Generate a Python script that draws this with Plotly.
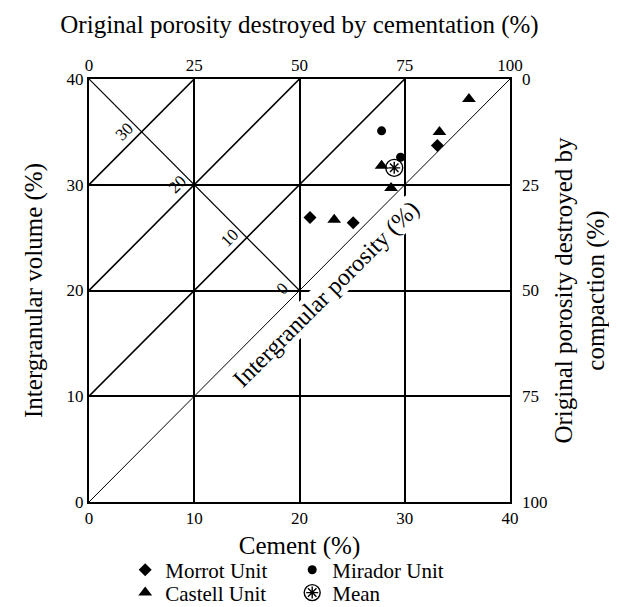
import plotly.graph_objects as go

# ---------------- data ----------------
morrot_cement = [21.0, 25.1, 33.1]
morrot_igv = [26.9, 26.4, 33.7]

mirador_cement = [27.8, 29.6]
mirador_igv = [35.1, 32.6]

castell_cement = [23.3, 27.8, 28.7, 33.3, 36.1]
castell_igv = [26.7, 31.8, 29.7, 35.0, 38.1]

mean_cement = [29.0]
mean_igv = [31.6]

porosity_lines = [0, 10, 20, 30]          # intergranular porosity isolines (IGV - cement)
porosity_labels = ["0", "10", "20", "30"]
bottom_ticks = [0, 10, 20, 30, 40]
left_ticks = [0, 10, 20, 30, 40]
top_ticks = [0, 25, 50, 75, 100]
right_ticks = [0, 25, 50, 75, 100]
AX_MAX = 40

FONT = "Liberation Serif"
BLACK = "black"
PLOT_W = 617 - 81 - 115
ENTRY_W = 122

fig = go.Figure()

fig.add_trace(go.Scatter(
    x=morrot_cement, y=morrot_igv, mode="markers", name="Morrot Unit", legend="legend",
    marker=dict(symbol="diamond", size=10, color=BLACK)))
fig.add_trace(go.Scatter(
    x=mirador_cement, y=mirador_igv, mode="markers", name="Mirador Unit", legend="legend",
    marker=dict(symbol="circle", size=9, color=BLACK)))
fig.add_trace(go.Scatter(
    x=castell_cement, y=castell_igv, mode="markers", name="Castell Unit", legend="legend2",
    marker=dict(symbol="triangle-up", size=12, color=BLACK)))
fig.add_trace(go.Scatter(
    x=mean_cement, y=mean_igv, mode="markers", name="Mean", legend="legend2",
    marker=dict(symbol="circle-open", size=17, color=BLACK, line=dict(width=1.4, color=BLACK))))
# asterisk inside the mean circle (its legend glyph is overlaid on the "Mean" entry)
fig.add_trace(go.Scatter(
    x=mean_cement, y=mean_igv, mode="markers", name=" ", legend="legend3",
    marker=dict(symbol="asterisk-open", size=10, color=BLACK, line=dict(width=1.4, color=BLACK))))
# secondary (top / right) scales
fig.add_trace(go.Scatter(
    x=top_ticks, y=right_ticks, xaxis="x2", yaxis="y2", mode="markers", showlegend=False,
    hoverinfo="skip", marker=dict(opacity=0)))

shapes = []
for p in porosity_lines:
    shapes.append(dict(type="line", xref="x", yref="y", x0=0, y0=p, x1=AX_MAX - p, y1=AX_MAX,
                       line=dict(color=BLACK, width=1.0 if p == 0 else 1.6), layer="below"))
shapes.append(dict(type="line", xref="x", yref="y", x0=0, y0=AX_MAX, x1=AX_MAX / 2, y1=AX_MAX / 2,
                   line=dict(color=BLACK, width=1.2), layer="below"))
fig.update_layout(shapes=shapes)

annotations = []
for p, lab in zip(porosity_lines, porosity_labels):
    xi = (AX_MAX - p) / 2
    yi = (AX_MAX + p) / 2
    annotations.append(dict(x=xi, y=yi, xref="x", yref="y", text=lab, showarrow=False,
                            textangle=-45, xshift=-17, yshift=2 if p == 0 else 0,
                            font=dict(family=FONT, size=17, color=BLACK)))
annotations.append(dict(x=22.5, y=19.7, xref="x", yref="y", text="Intergranular porosity (%)",
                        showarrow=False, textangle=-45, bgcolor="white", borderpad=0,
                        font=dict(family=FONT, size=24, color=BLACK)))
fig.update_layout(annotations=annotations)

tickfont = dict(family=FONT, size=17, color=BLACK)
titlefont = dict(family=FONT, size=25, color=BLACK)
legfont = dict(family=FONT, size=21, color=BLACK)

LEG_X = 0.086
fig.update_layout(
    width=617, height=607,
    margin=dict(l=81, r=115, t=71, b=113, pad=0, autoexpand=False),
    paper_bgcolor="white", plot_bgcolor="white",
    font=dict(family=FONT, color=BLACK),
    xaxis=dict(range=[0, AX_MAX], tickvals=bottom_ticks, ticks="", showgrid=True,
               gridcolor=BLACK, gridwidth=1.5, zeroline=False, showline=True,
               linecolor=BLACK, linewidth=2, mirror=True, tickfont=tickfont,
               title=dict(text="Cement (%)", font=titlefont, standoff=9)),
    yaxis=dict(range=[0, AX_MAX], tickvals=left_ticks, ticks="", showgrid=True,
               gridcolor=BLACK, gridwidth=1.5, zeroline=False, showline=True,
               linecolor=BLACK, linewidth=2, mirror=True, tickfont=tickfont,
               title=dict(text="Intergranular volume (%)", font=titlefont, standoff=17)),
    xaxis2=dict(range=[0, 100], tickvals=top_ticks, overlaying="x", side="top", anchor="y",
                ticks="", showgrid=False, zeroline=False, showline=False, tickfont=tickfont,
                ticklabelstandoff=4,
                title=dict(text="Original porosity destroyed by cementation (%)", font=titlefont,
                           standoff=14)),
    yaxis2=dict(range=[100, 0], tickvals=right_ticks, overlaying="y", side="right", anchor="x",
                ticks="", showgrid=False, zeroline=False, showline=False, tickfont=tickfont,
                ticklabelstandoff=11,
                title=dict(text="Original porosity destroyed by<br>compaction (%)", font=titlefont,
                           standoff=7)),
    legend=dict(orientation="h", x=LEG_X, xanchor="left", y=-0.161, yanchor="middle",
                entrywidth=ENTRY_W, entrywidthmode="pixels",
                font=legfont, bgcolor="rgba(0,0,0,0)"),
    legend2=dict(orientation="h", x=LEG_X, xanchor="left", y=-0.215, yanchor="middle",
                 entrywidth=ENTRY_W, entrywidthmode="pixels",
                 font=legfont, bgcolor="rgba(0,0,0,0)"),
    legend3=dict(orientation="h", x=LEG_X + (ENTRY_W + 45) / PLOT_W, xanchor="left", y=-0.215,
                 yanchor="middle", entrywidth=ENTRY_W, entrywidthmode="pixels",
                 font=legfont, bgcolor="rgba(0,0,0,0)"),
    showlegend=True,
)

fig.write_html("out.html")
